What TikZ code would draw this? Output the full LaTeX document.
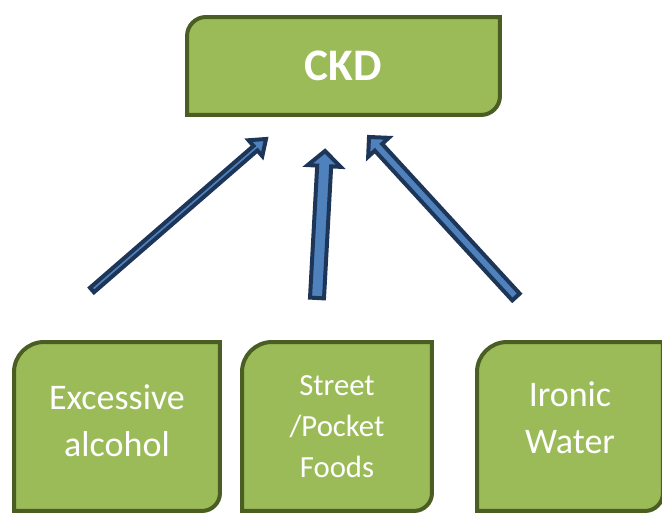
\documentclass[tikz,border=0pt]{standalone}
\usepackage{fontspec}
\setmainfont{Carlito}
\usepackage{tikz}
\usetikzlibrary{arrows.meta,backgrounds}
\usetikzlibrary{calc}

\definecolor{leafgreen}{HTML}{9BBB59}
\definecolor{leafedge}{HTML}{4A5E23}
\definecolor{shaftblue}{HTML}{4F81BD}
\definecolor{shaftedge}{HTML}{1D3557}

\tikzset{
	leaf/.style={minimum width=#1, minimum height=3.38cm, inner sep=0pt, outer sep=0pt, text=white, align=center},
	leafline/.style={draw=leafedge, fill=leafgreen, line width=0.08cm},
	shaft/.style={draw=shaftedge, fill=shaftblue, line width=0.08cm, line join=miter},
}

% box with rounded top left and bottom right corners
\newcommand{\leafbox}[3]{%
	\draw[leafline] (#1.south west) -- ([yshift=-#2]#1.north west) arc[start angle=180, end angle=90, radius=#2]
	-- (#1.north east) -- ([yshift=#3]#1.south east) arc[start angle=0, end angle=-90, radius=#3] -- cycle;}

% block arrow: tail, tip, half shaft, half head, head length
\newcommand{\blockarrow}[5]{%
	\coordinate (hb) at ($(#2)!#5!(#1)$);
	\draw[shaft] ($(#1)!#3!90:(#2)$) -- ($(hb)!#3!90:(#2)$) -- ($(hb)!#4!90:(#2)$) -- (#2)
	-- ($(hb)!#4!-90:(#2)$) -- ($(hb)!#3!-90:(#2)$) -- ($(#1)!#3!-90:(#2)$) -- cycle;}

\begin{document}
\begin{tikzpicture}[x=0.02cm, y=0.02cm]
\useasboundingbox (0,0) rectangle (662,517);

\node[leaf=6.26cm, minimum height=1.96cm, font=\bfseries\fontsize{25.7}{30}\selectfont] (ckd) at (343.5,451) {CKD};
\node[leaf=4.12cm, text depth=7pt, font=\fontsize{20.5}{26.6}\selectfont] (alcohol) at (117,90.5) {Excessive\\alcohol};
\node[leaf=3.80cm, font=\fontsize{17.5}{23.2}\selectfont] (street) at (337,90.5) {Street\\/Pocket\\Foods};
\node[leaf=3.72cm, text depth=10pt, font=\fontsize{20.5}{26.6}\selectfont] (water) at (570,90.5) {Ironic\\Water};

\begin{scope}[on background layer]
	\leafbox{ckd}{0.38cm}{0.38cm}
	\leafbox{alcohol}{0.6cm}{0.36cm}
	\leafbox{street}{0.6cm}{0.36cm}
	\leafbox{water}{0.6cm}{0.36cm}
\end{scope}

\coordinate (a1s) at (92,227);  \coordinate (a1e) at (266,378);
\coordinate (a2s) at (317,219); \coordinate (a2e) at (325,366);
\coordinate (a3s) at (516,220); \coordinate (a3e) at (369,380);

\blockarrow{a1s}{a1e}{0.06cm}{0.21cm}{0.28cm}
\blockarrow{a2s}{a2e}{0.14cm}{0.33cm}{0.3cm}
\blockarrow{a3s}{a3e}{0.1cm}{0.28cm}{0.28cm}
\end{tikzpicture}
\end{document}
